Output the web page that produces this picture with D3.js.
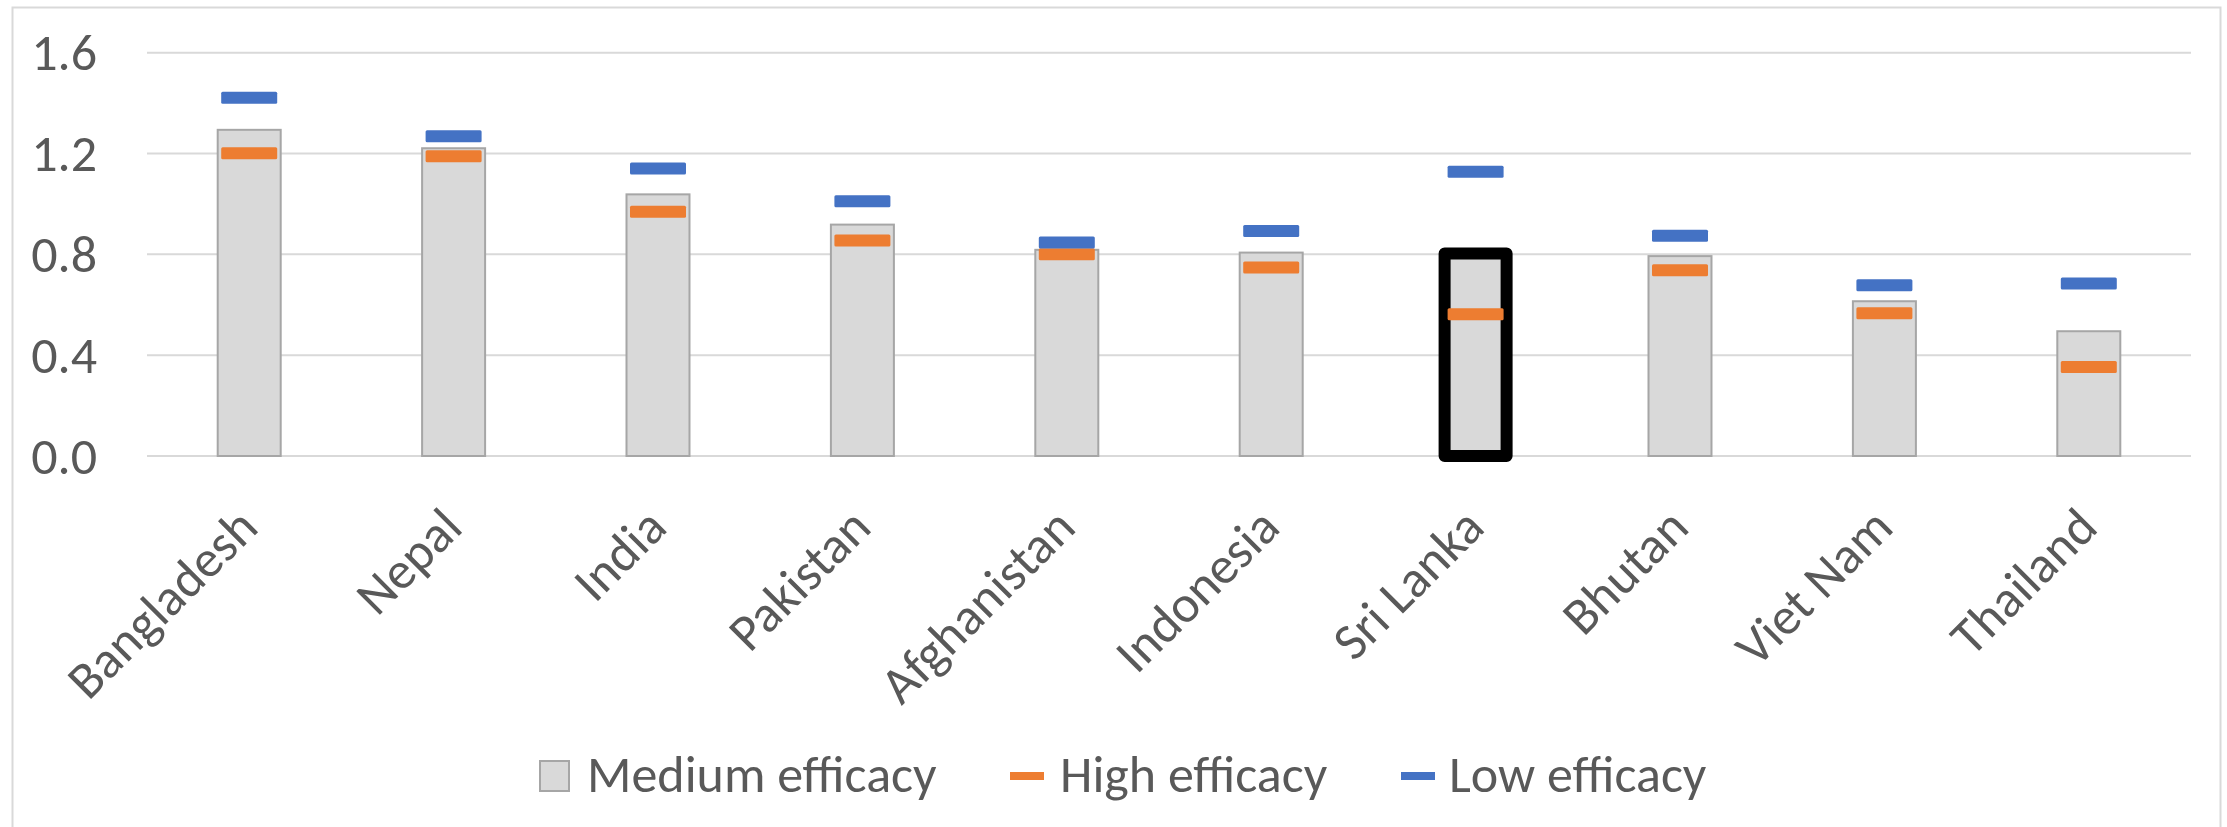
<!DOCTYPE html>
<html>
<head>
<meta charset="utf-8">
<script src="https://cdn.jsdelivr.net/npm/d3@7"></script>
<style>
  html, body { margin: 0; padding: 0; background: #ffffff; }
  svg { display: block; }
  text { font-family: Carlito, "Liberation Sans", Arial, sans-serif; fill: #595959; }
</style>
</head>
<body>
<svg id="chart" width="2227" height="827"></svg>
<script>
const categories = ["Bangladesh", "Nepal", "India", "Pakistan", "Afghanistan", "Indonesia", "Sri Lanka", "Bhutan", "Viet Nam", "Thailand"];
const mediumEfficacy = [1.294, 1.221, 1.038, 0.918, 0.818, 0.807, 0.803, 0.793, 0.614, 0.495];
const highEfficacy   = [1.201, 1.189, 0.969, 0.855, 0.800, 0.748, 0.562, 0.737, 0.566, 0.353];
const lowEfficacy    = [1.421, 1.269, 1.141, 1.011, 0.847, 0.893, 1.128, 0.874, 0.677, 0.684];
const yTicks = [0, 0.4, 0.8, 1.2, 1.6];
const highlighted = "Sri Lanka";
const legendLabels = ["Medium efficacy", "High efficacy", "Low efficacy"];

const svg = d3.select("#chart");
const W = 2227, H = 827;
const FS = 52;
const plot = { left: 147, right: 2191, top: 52.7, bottom: 456 };

svg.append("rect").attr("x", 0).attr("y", 0).attr("width", W).attr("height", H).attr("fill", "#fff");
// chart area border
svg.append("rect")
  .attr("x", 12.5).attr("y", 7.5).attr("width", 2208).attr("height", 840)
  .attr("fill", "none").attr("stroke", "#d9d9d9").attr("stroke-width", 2);

const x = d3.scaleBand().domain(categories).range([plot.left, plot.right])
  .paddingInner(0.682).paddingOuter(0.341);
const y = d3.scaleLinear().domain([0, 1.6]).range([plot.bottom, plot.top]);

// gridlines
svg.append("g").selectAll("line").data(yTicks).join("line")
  .attr("x1", plot.left).attr("x2", plot.right)
  .attr("y1", d => y(d)).attr("y2", d => y(d))
  .attr("stroke", "#d9d9d9").attr("stroke-width", 2);

// y axis labels
const yAxis = d3.axisLeft(y).tickValues(yTicks).tickFormat(d3.format(".1f")).tickSize(0).tickPadding(0);
const yg = svg.append("g").attr("transform", "translate(97,0)").call(yAxis);
yg.select(".domain").remove();
yg.selectAll("text")
  .attr("font-size", FS).attr("fill", "#595959")
  .attr("font-family", "Carlito, 'Liberation Sans', Arial, sans-serif")
  .attr("dy", "0.33em");

const rows = categories.map((c, i) => ({ c, m: mediumEfficacy[i], h: highEfficacy[i], l: lowEfficacy[i] }));

// bars
svg.append("g").selectAll("rect").data(rows.filter(d => d.c !== highlighted)).join("rect")
  .attr("x", d => x(d.c) + 1).attr("width", x.bandwidth() - 2)
  .attr("y", d => y(d.m)).attr("height", d => y(0) - y(d.m))
  .attr("fill", "#d9d9d9").attr("stroke", "#a6a6a6").attr("stroke-width", 2);

// highlighted bar
svg.append("g").selectAll("rect").data(rows.filter(d => d.c === highlighted)).join("rect")
  .attr("x", d => x(d.c) + 1.5).attr("width", x.bandwidth() - 3)
  .attr("y", d => y(d.m)).attr("height", d => y(0) - y(d.m))
  .attr("fill", "#d9d9d9").attr("stroke", "#000").attr("stroke-width", 12)
  .attr("stroke-linejoin", "round");

// markers
const mw = 56, mh = 12;
function markers(key, color) {
  svg.append("g").selectAll("rect").data(rows).join("rect")
    .attr("x", d => x(d.c) + x.bandwidth() / 2 - mw / 2)
    .attr("y", d => y(d[key]) - mh / 2)
    .attr("width", mw).attr("height", mh).attr("rx", 1.5)
    .attr("fill", color);
}
markers("h", "#ed7d31");
markers("l", "#4472c4");

// x labels
svg.append("g").selectAll("text").data(categories).join("text")
  .attr("transform", d => `translate(${x(d) + x.bandwidth() / 2 + 11},530) rotate(-45)`)
  .attr("text-anchor", "end")
  .attr("font-size", FS)
  .text(d => d);

// legend
const lg = svg.append("g");
lg.append("rect").attr("x", 540).attr("y", 761).attr("width", 29).attr("height", 30)
  .attr("fill", "#d9d9d9").attr("stroke", "#a6a6a6").attr("stroke-width", 2);
lg.append("text").attr("x", 587).attr("y", 791.5).attr("font-size", FS).text(legendLabels[0]);
lg.append("rect").attr("x", 1010).attr("y", 772).attr("width", 34).attr("height", 8).attr("fill", "#ed7d31");
lg.append("text").attr("x", 1060).attr("y", 791.5).attr("font-size", FS).text(legendLabels[1]);
lg.append("rect").attr("x", 1401).attr("y", 772).attr("width", 34).attr("height", 8).attr("fill", "#4472c4");
lg.append("text").attr("x", 1449).attr("y", 791.5).attr("font-size", FS).text(legendLabels[2]);
</script>
</body>
</html>
